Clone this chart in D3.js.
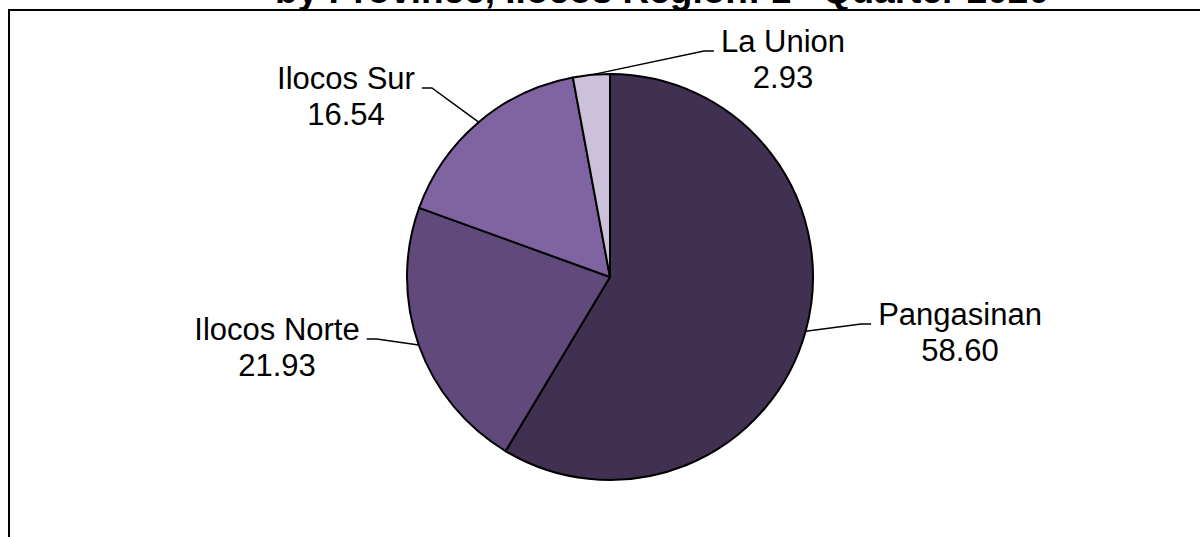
<!DOCTYPE html>
<html>
<head>
<meta charset="utf-8">
<script src="https://cdn.jsdelivr.net/npm/d3@7"></script>
<style>
  body { margin: 0; background: #fff; }
  svg { display: block; }
  text { font-family: "Liberation Sans", Arial, sans-serif; fill: #000; }
</style>
</head>
<body>
<svg id="viz" width="1200" height="537"></svg>
<script>
// Data
const provinces = ["Pangasinan", "Ilocos Norte", "Ilocos Sur", "La Union"];
const shares = [58.60, 21.93, 16.54, 2.93];
const sliceColors = ["#403152", "#604A7B", "#8064A2", "#CCC1DA"];
const titleParts = ["by Province, Ilocos Region: 1", "st", " Quarter 2020"];

// Layout
const W = 1200, H = 537;
const CX = 610, CY = 277, R = 203;
const FONT = 31;
// where each label's first baseline sits (centre), relative to pie centre
const labelOffsets = [[350, 48], [-333, 63], [-264, -188], [173, -225]];

const svg = d3.select("#viz");

// plot-area frame (right & bottom run off the picture)
svg.append("rect")
  .attr("x", 9).attr("y", 10)
  .attr("width", W + 40).attr("height", H + 40)
  .attr("fill", "none").attr("stroke", "#000").attr("stroke-width", 2);

// title, mostly cut off at the top (as in the source)
const title = svg.append("text")
  .attr("x", 662).attr("y", 3)
  .attr("text-anchor", "middle")
  .attr("font-weight", "bold")
  .attr("font-size", 37);
title.append("tspan").text(titleParts[0]);
title.append("tspan").attr("font-size", 24).attr("dy", -12).text(titleParts[1]);
title.append("tspan").attr("dy", 12).text(titleParts[2]);

const data = provinces.map((p, i) => ({ name: p, value: shares[i], color: sliceColors[i], off: labelOffsets[i] }));

const pie = d3.pie().sort(null).value(d => d.value);
const arc = d3.arc().innerRadius(0).outerRadius(R);
const edge = d3.arc().innerRadius(R).outerRadius(R);

const g = svg.append("g").attr("transform", `translate(${CX},${CY})`);
const arcs = pie(data);

g.selectAll("path.slice")
  .data(arcs)
  .join("path")
    .attr("class", "slice")
    .attr("d", arc)
    .attr("fill", d => d.data.color)
    .attr("stroke", "#000")
    .attr("stroke-width", 2)
    .attr("stroke-linejoin", "round");

// labels + leader lines
const fmt = d3.format(".2f");
const labels = g.selectAll("g.label")
  .data(arcs)
  .join("g")
    .attr("class", "label");

labels.each(function(d) {
  const sel = d3.select(this);
  const [lx, ly] = d.data.off;
  const t = sel.append("text")
    .attr("text-anchor", "middle")
    .attr("font-size", FONT);
  t.append("tspan").attr("x", lx).attr("y", ly).text(d.data.name);
  t.append("tspan").attr("x", lx).attr("y", ly + 35.5).text(fmt(d.data.value));

  const w = t.node().firstChild.getComputedTextLength();
  const onRight = lx > 0;
  const gap = 7, horiz = 10;
  const endX = onRight ? lx - w / 2 - gap : lx + w / 2 + gap;
  const elbowX = onRight ? endX - horiz : endX + horiz;
  const yLine = ly - 1;
  const [ex, ey] = edge.centroid(d);

  sel.append("path")
    .attr("d", d3.line()([[ex, ey], [elbowX, yLine], [endX, yLine]]))
    .attr("fill", "none")
    .attr("stroke", "#000")
    .attr("stroke-width", 1.5);
});
</script>
</body>
</html>
